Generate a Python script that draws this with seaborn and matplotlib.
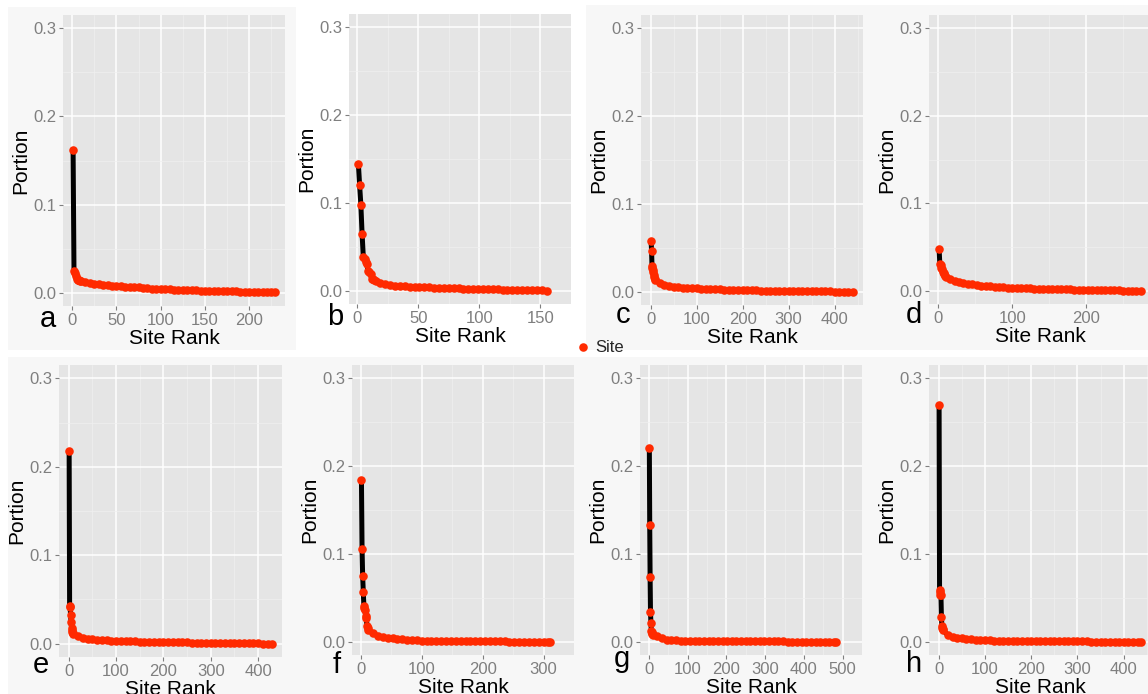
import seaborn as sns
import matplotlib.pyplot as plt
from matplotlib.patches import Rectangle

# Site rank (x) and portion (y) for each panel
ranks_a = list(range(1, 11)) + list(range(15, 226, 5)) + [229]
portion_a = [0.162, 0.0245, 0.022, 0.019, 0.016, 0.015, 0.0145, 0.014, 0.0135, 0.013,
             0.0122, 0.0113, 0.0103, 0.0095, 0.0089, 0.0084, 0.008, 0.0076, 0.0072, 0.0069,
             0.0066, 0.0063, 0.006, 0.0055, 0.0051, 0.0048, 0.0045, 0.0042, 0.004, 0.0038,
             0.0036, 0.0034, 0.0032, 0.003, 0.0028, 0.0026, 0.0025, 0.0023, 0.0022, 0.0021,
             0.0019, 0.0018, 0.0017, 0.0016, 0.0015, 0.0014, 0.0012, 0.0011, 0.001, 0.0009,
             0.0008, 0.0007, 0.0006, 0.0005]

ranks_b = list(range(1, 16)) + list(range(19, 156, 4))
portion_b = [0.144, 0.12, 0.098, 0.065, 0.039, 0.036, 0.033, 0.03, 0.022, 0.021,
             0.019, 0.0135, 0.013, 0.012, 0.011,
             0.0085, 0.0075, 0.007, 0.0055, 0.0052, 0.005, 0.0047, 0.0045, 0.0043, 0.0041,
             0.0039, 0.0037, 0.0035, 0.0033, 0.0031, 0.003, 0.0028, 0.0026, 0.0025, 0.0023,
             0.0022, 0.002, 0.0019, 0.0017, 0.0016, 0.0014, 0.0013, 0.0011, 0.001, 0.0009,
             0.0007, 0.0006, 0.0005, 0.0004, 0.0003]

ranks_c = list(range(1, 11)) + list(range(20, 441, 10))
portion_c = [0.058, 0.047, 0.029, 0.027, 0.025, 0.022, 0.019, 0.017, 0.015, 0.013,
             0.0098, 0.0082, 0.0069, 0.006, 0.0054, 0.0049, 0.0045, 0.0041, 0.0038,
             0.0035, 0.0033, 0.0031, 0.0029, 0.0027, 0.0025, 0.0023, 0.0022, 0.002, 0.0019,
             0.0018, 0.0017, 0.0016, 0.0015, 0.0014, 0.0013, 0.0012, 0.0011, 0.001, 0.0009,
             0.0008, 0.0008, 0.0007, 0.0007, 0.0006, 0.0005, 0.0005, 0.0004, 0.0004, 0.0003,
             0.0003, 0.0002, 0.0002, 0.0001]

ranks_d = list(range(1, 11)) + list(range(16, 275, 6))
portion_d = [0.048, 0.0305, 0.03, 0.026, 0.025, 0.022, 0.02, 0.019, 0.017, 0.016,
             0.0135, 0.0112, 0.0098, 0.0088, 0.008, 0.0073, 0.0066, 0.006, 0.0055, 0.005,
             0.0046, 0.0043, 0.004, 0.0037, 0.0035, 0.0033, 0.0031, 0.0029, 0.0027, 0.0025,
             0.0024, 0.0022, 0.0021, 0.002, 0.0019, 0.0018, 0.0017, 0.0016, 0.0015, 0.0014,
             0.0013, 0.0012, 0.0011, 0.001, 0.0009, 0.0008, 0.0007, 0.0006, 0.0005, 0.0004,
             0.0004, 0.0003, 0.0002, 0.0001]

ranks_e = list(range(1, 11)) + list(range(20, 421, 10)) + [429]
portion_e = [0.218, 0.043, 0.042, 0.033, 0.024, 0.018, 0.015, 0.013, 0.012, 0.011,
             0.0085, 0.0068, 0.0058, 0.005, 0.0045, 0.0041, 0.0038, 0.0035, 0.0033,
             0.0031, 0.0029, 0.0027, 0.0026, 0.0025, 0.0024, 0.0023, 0.0022, 0.002, 0.0019,
             0.0018, 0.0017, 0.0016, 0.0015, 0.0014, 0.0013, 0.0012, 0.0011, 0.001, 0.001,
             0.0009, 0.0008, 0.0008, 0.0007, 0.0006, 0.0006, 0.0005, 0.0004, 0.0004, 0.0003,
             0.0002, 0.0002, 0.0001]

ranks_f = list(range(1, 13)) + list(range(20, 309, 8)) + [311]
portion_f = [0.184, 0.106, 0.0746, 0.057, 0.041, 0.039, 0.036, 0.029, 0.027, 0.0185,
             0.016, 0.014,
             0.0095, 0.0068, 0.0055, 0.0045, 0.0038, 0.0032, 0.0027, 0.0023, 0.002, 0.0017,
             0.0015, 0.0013, 0.0012, 0.0011, 0.001, 0.0009, 0.0008, 0.0008, 0.0007, 0.0007,
             0.0006, 0.0006, 0.0005, 0.0005, 0.0005, 0.0004, 0.0004, 0.0004, 0.0003, 0.0003,
             0.0003, 0.0002, 0.0002, 0.0002, 0.0001, 0.0001, 0.0001, 0.0001]

ranks_g = list(range(1, 11)) + list(range(22, 479, 12)) + [483]
portion_g = [0.221, 0.1325, 0.0734, 0.0337, 0.0216, 0.0128, 0.011, 0.0098, 0.0088, 0.008,
             0.0062, 0.0038, 0.0025, 0.002, 0.0017, 0.0015, 0.0014, 0.0013, 0.0012, 0.0012,
             0.0011, 0.0011, 0.001, 0.001, 0.0009, 0.0009, 0.0008, 0.0008, 0.0007, 0.0007,
             0.0006, 0.0006, 0.0006, 0.0005, 0.0005, 0.0004, 0.0004, 0.0004, 0.0003, 0.0003,
             0.0003, 0.0002, 0.0002, 0.0002, 0.0001, 0.0001, 0.0001, 0.0001, 0.0001, 0.0001]

ranks_h = list(range(1, 11)) + list(range(20, 431, 10)) + [437]
portion_h = [0.2697, 0.0594, 0.057, 0.0537, 0.053, 0.028, 0.0185, 0.016, 0.015, 0.013,
             0.0075, 0.0055, 0.0045, 0.0039, 0.0033, 0.0028, 0.0024, 0.0021, 0.0019,
             0.0017, 0.0015, 0.0014, 0.0013, 0.0012, 0.0011, 0.001, 0.001, 0.0009, 0.0009,
             0.0008, 0.0008, 0.0007, 0.0007, 0.0006, 0.0006, 0.0005, 0.0005, 0.0005, 0.0004,
             0.0004, 0.0004, 0.0003, 0.0003, 0.0003, 0.0002, 0.0002, 0.0002, 0.0002, 0.0001,
             0.0001, 0.0001, 0.0001, 0.0001]

panel_letters = ['a', 'b', 'c', 'd', 'e', 'f', 'g', 'h']
x_ticks = [[0, 50, 100, 150, 200], [0, 50, 100, 150], [0, 100, 200, 300, 400], [0, 100, 200],
           [0, 100, 200, 300, 400], [0, 100, 200, 300], [0, 100, 200, 300, 400, 500],
           [0, 100, 200, 300, 400]]
y_ticks = [0.0, 0.1, 0.2, 0.3]

panels = [(ranks_a, portion_a), (ranks_b, portion_b), (ranks_c, portion_c), (ranks_d, portion_d),
          (ranks_e, portion_e), (ranks_f, portion_f), (ranks_g, portion_g), (ranks_h, portion_h)]

W, H = 1148, 694
# plot-area boxes in pixels: left, top, right, bottom
boxes = [(63, 15, 285, 306), (349, 14, 571, 304), (641, 15, 863, 305), (929, 15, 1151, 304),
         (59, 365, 282, 657), (352, 365, 574, 655), (640, 365, 862, 655), (929, 365, 1151, 655)]
# letter positions (centre x, baseline y) in pixels
letter_pos = [(48, 327), (335, 325), (623, 323), (914, 323),
              (41, 673), (337, 673), (622, 667), (914, 672)]

RED = '#ff2a00'

sns.set_theme(style='darkgrid', rc={'axes.facecolor': '#e5e5e5', 'grid.color': 'white'})
plt.rcParams['font.family'] = ['Liberation Sans', 'DejaVu Sans']

fig = plt.figure(figsize=(W / 100, H / 100), dpi=100, facecolor='white')

# light grey tiles behind the sub-figures (collage look)
for l, t, r, b in [(8, 7, 296, 350), (586, 5, 1148, 350), (8, 357, 1148, 694)]:
    fig.add_artist(Rectangle((l / W, 1 - b / H), (r - l) / W, (b - t) / H,
                             transform=fig.transFigure, facecolor='#f7f7f7',
                             edgecolor='none', zorder=-1))

axes = []
for i, (ranks, vals) in enumerate(panels):
    l, t, r, b = boxes[i]
    ax = fig.add_axes([l / W, 1 - b / H, (r - l) / W, (b - t) / H])
    axes.append(ax)
    sns.lineplot(x=ranks, y=vals, color='black', lw=3.6, sort=False, estimator=None, ax=ax)
    sns.scatterplot(x=ranks, y=vals, color=RED, s=38, linewidth=0, ax=ax,
                    label='Site' if i == 0 else None, zorder=3)
    n = max(ranks)
    ax.set_xlim(1 - 0.05 * (n - 1), n + 0.05 * (n - 1))
    ax.set_ylim(-0.015, 0.315)
    xt = x_ticks[i]
    ax.set_xticks(xt)
    ax.set_xticklabels([str(v) for v in xt])
    ax.set_xticks([v + (xt[1] - xt[0]) / 2 for v in xt], minor=True)
    ax.set_yticks(y_ticks)
    ax.set_yticklabels([f'{v:.1f}' for v in y_ticks])
    ax.set_yticks([0.05, 0.15, 0.25], minor=True)
    ax.grid(which='major', color='white', lw=1.1)
    ax.grid(which='minor', color='#f0f0f0', lw=0.5)
    ax.tick_params(which='major', bottom=True, left=True, length=3, width=0.8,
                   color='#7f7f7f', labelcolor='#7f7f7f', labelsize=12, pad=2)
    ax.tick_params(which='minor', bottom=False, left=False)
    for s in ax.spines.values():
        s.set_visible(False)
    ax.set_xlabel('Site Rank', fontsize=15, color='black', labelpad=1)
    ax.set_ylabel('Portion', fontsize=15, color='black', labelpad=2)
    lx, ly = letter_pos[i]
    fig.text(lx / W, 1 - ly / H, panel_letters[i], fontsize=21, color='black',
             ha='center', va='baseline')

handles, labels = axes[0].get_legend_handles_labels()
axes[0].legend_.remove()
fig.legend(handles, labels, loc='center left', bbox_to_anchor=(575 / W, 1 - 347 / H),
           frameon=False, fontsize=12, handletextpad=0.2, borderpad=0, borderaxespad=0,
           handlelength=1.0, markerscale=1.0)

fig.savefig('out.png', dpi=100)
